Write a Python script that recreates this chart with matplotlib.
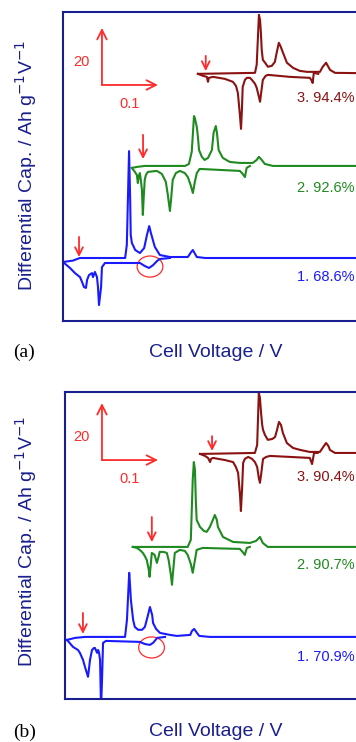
import matplotlib
matplotlib.use("Agg")
import matplotlib.pyplot as plt
from matplotlib.patches import Ellipse

# dQ/dV curves, voltage relative to cycle start (V), dQ/dV relative to cycle baseline (Ah g-1 V-1)
# panel (a)
A1_CHG_V = [0, 0.018, 0.030, 0.111, 0.114, 0.118, 0.120, 0.121, 0.123, 0.129, 0.1375, 0.145, 0.150, 0.154,
            0.157, 0.159, 0.164, 0.173, 0.191, 0.223, 0.229, 0.232, 0.236, 0.239, 0.254, 0.55]
A1_CHG_Q = [-1.4, -0.9, 0, 0, 4.6, 37.5, 20.4, 8.1, 5.3, 2.8, 1.75, 3.5, 8.1, 11.2,
            8.8, 7.4, 3.9, 1.05, 0.35, 0.35, 2.1, 2.8, 1.4, 0.35, 0, 0]
A1_DIS_V = [0, 0.0125, 0.0214, 0.0304, 0.034, 0.0375, 0.041, 0.043, 0.0464, 0.0518, 0.0536, 0.057, 0.0607,
            0.0625, 0.0643, 0.068, 0.0696, 0.075, 0.1375, 0.146, 0.1536, 0.161, 0.168, 0.173, 0.191]
A1_DIS_Q = [-1.4, -3.5, -5.3, -6.7, -8.4, -10.2, -10.5, -7.7, -6.0, -5.3, -6.7, -4.9, -6.7,
            -10.2, -16.5, -10.2, -3.2, -1.75, -1.75, -2.8, -3.5, -2.5, -1.05, -0.35, 0]

A2_CHG_V = [0, 0.009, 0.023, 0.095, 0.102, 0.107, 0.111, 0.1125, 0.116, 0.118, 0.120, 0.125, 0.130, 0.136,
            0.143, 0.146, 0.150, 0.152, 0.155, 0.1625, 0.175, 0.193, 0.216, 0.223, 0.227, 0.232, 0.2375,
            0.252, 0.45]
A2_CHG_Q = [-0.7, -0.35, 0, 0, 0.7, 5.0, 17.5, 16.8, 13.7, 10.2, 5.6, 3.2, 2.1, 2.8,
            5.6, 11.6, 14.0, 11.6, 5.6, 2.8, 1.4, 1.05, 1.05, 2.1, 3.2, 2.1, 0.7, 0, 0]
A2_DIS_V = [0, 0.0054, 0.009, 0.0107, 0.0125, 0.0143, 0.016, 0.018, 0.0196, 0.0214, 0.023, 0.025, 0.0286,
            0.0446, 0.0536, 0.0607, 0.0643, 0.068, 0.070, 0.073, 0.0786, 0.0857, 0.0946, 0.100, 0.105,
            0.109, 0.1125, 0.116, 0.121, 0.157, 0.193, 0.198, 0.202, 0.205, 0.211]
A2_DIS_Q = [-0.7, -2.1, -3.2, -6.0, -3.5, -2.5, -4.9, -8.4, -17.2, -10.2, -4.9, -3.2, -2.1,
            -1.75, -2.8, -5.6, -10.2, -15.8, -11.9, -4.9, -2.5, -1.75, -2.5, -3.9, -6.7,
            -9.5, -5.6, -2.5, -1.05, -1.4, -1.75, -2.8, -3.9, -0.7, 0]

A3_CHG_V = [0, 0.102, 0.105, 0.109, 0.111, 0.1125, 0.114, 0.116, 0.120, 0.125, 0.132, 0.1375, 0.141,
            0.1446, 0.148, 0.152, 0.159, 0.170, 0.182, 0.195, 0.218, 0.223, 0.229, 0.232, 0.236, 0.245, 0.40]
A3_CHG_Q = [0, 0.35, 3.2, 20.7, 18.9, 14.4, 8.4, 4.9, 3.9, 2.5, 2.8, 4.2, 7.7,
            10.9, 9.5, 7.4, 3.9, 2.1, 1.05, 0.7, 0.7, 2.5, 3.9, 2.8, 1.4, 0.35, 0]
A3_DIS_V = [0, 0.009, 0.016, 0.018, 0.0196, 0.027, 0.048, 0.0625, 0.068, 0.0714, 0.075, 0.077, 0.0786,
            0.080, 0.084, 0.0875, 0.093, 0.0964, 0.102, 0.105, 0.109, 0.111, 0.1125, 0.116, 0.121, 0.125,
            0.164, 0.200, 0.2036, 0.205, 0.207, 0.215]
A3_DIS_Q = [0, -0.7, -1.05, -2.8, -1.4, -1.05, -1.75, -2.8, -4.2, -6.7, -14.4, -19.3, -12.6,
            -4.6, -2.1, -1.4, -1.4, -2.1, -3.5, -4.9, -8.1, -9.8, -7.4, -2.1, -0.7, -0.35,
            -1.05, -1.4, -2.5, -3.2, 0.35, 0]

# panel (b)
B1_CHG_V = [0, 0.0143, 0.032, 0.1036, 0.107, 0.111, 0.1125, 0.114, 0.118, 0.121, 0.127, 0.134, 0.139,
            0.1446, 0.148, 0.152, 0.1536, 0.159, 0.166, 0.184, 0.196, 0.220, 0.223, 0.227, 0.232, 0.236,
            0.255, 0.55]
B1_CHG_Q = [-1.05, -0.35, 0, 0, 6.0, 22.5, 18.2, 13.0, 6.0, 3.5, 2.5, 2.5, 3.5,
            7.7, 10.5, 7.7, 4.9, 2.8, 1.4, 0.7, 0.35, 0.7, 2.1, 2.8, 1.4, 0.35, 0, 0]
B1_DIS_V = [0, 0.0107, 0.0196, 0.023, 0.0286, 0.032, 0.0375, 0.039, 0.041, 0.0446, 0.048, 0.050, 0.0536,
            0.0554, 0.057, 0.059, 0.0607, 0.0625, 0.0643, 0.0696, 0.130, 0.139, 0.148, 0.1536, 0.161, 0.175]
B1_DIS_Q = [-1.05, -3.5, -4.6, -5.6, -8.1, -10.5, -14.0, -11.6, -8.1, -4.6, -3.9, -3.9, -5.6,
            -4.6, -5.3, -8.1, -25.0, -15.1, -2.1, -1.4, -1.75, -2.5, -2.8, -2.1, -0.35, 0]

B2_CHG_V = [0, 0.030, 0.098, 0.1036, 0.107, 0.109, 0.111, 0.1125, 0.114, 0.120, 0.127, 0.132, 0.1375,
            0.143, 0.1464, 0.150, 0.152, 0.161, 0.179, 0.209, 0.220, 0.227, 0.232, 0.241, 0.45]
B2_CHG_Q = [0, 0, 0, 2.5, 23.5, 29.8, 27.0, 16.5, 9.5, 7.0, 5.6, 5.3, 7.0,
            9.5, 11.2, 9.5, 7.0, 3.5, 1.75, 1.4, 2.1, 3.5, 1.4, 0, 0]
B2_DIS_V = [0, 0.0071, 0.0125, 0.018, 0.0214, 0.025, 0.0286, 0.030, 0.032, 0.034, 0.039, 0.043, 0.0464,
            0.048, 0.055, 0.0607, 0.064, 0.068, 0.070, 0.0714, 0.075, 0.084, 0.093, 0.098, 0.1036,
            0.107, 0.111, 0.114, 0.125, 0.191, 0.196, 0.200, 0.2036, 0.209]
B2_DIS_Q = [0, -0.35, -1.05, -2.1, -3.2, -4.6, -8.1, -10.5, -6.3, -2.1, -2.8, -5.6, -3.2,
            -1.75, -1.75, -2.1, -4.6, -9.8, -13.3, -9.8, -2.1, -1.05, -1.4, -2.8, -6.0,
            -9.1, -4.6, -1.05, -0.35, -0.7, -1.75, -2.8, -0.35, 0]

B3_CHG_V = [0, 0.098, 0.102, 0.105, 0.107, 0.109, 0.111, 0.1125, 0.116, 0.121, 0.129, 0.134, 0.1375,
            0.141, 0.1446, 0.148, 0.155, 0.166, 0.179, 0.196, 0.214, 0.220, 0.225, 0.229, 0.232, 0.241, 0.40]
B3_CHG_Q = [-0.35, 0, 2.8, 21.1, 19.3, 14.0, 9.8, 8.1, 6.3, 4.6, 4.9, 5.6, 8.1,
            10.9, 9.8, 7.0, 3.5, 1.75, 1.05, 0.35, 0.35, 2.1, 3.5, 2.5, 1.05, 0, 0]
B3_DIS_V = [0, 0.009, 0.0143, 0.018, 0.0196, 0.023, 0.0446, 0.059, 0.064, 0.068, 0.0714, 0.073, 0.075,
            0.077, 0.080, 0.086, 0.093, 0.098, 0.102, 0.105, 0.107, 0.109, 0.1125, 0.118, 0.125,
            0.161, 0.196, 0.198, 0.200, 0.2036, 0.21]
B3_DIS_Q = [-0.35, -1.05, -1.75, -3.2, -2.1, -1.75, -2.5, -3.2, -4.9, -7.0, -14.7, -20.4, -13.0,
            -3.5, -2.1, -1.4, -2.1, -3.2, -4.9, -8.8, -10.5, -7.7, -2.1, -1.4, -1.05,
            -1.4, -1.75, -2.8, -3.9, 0, 0]

# stacking offsets of cycles 1..3
OFF_A_V = [0.0, 0.123, 0.241]
OFF_A_Q = [0.0, 32.3, 64.6]
OFF_B_V = [0.0036, 0.121, 0.241]
OFF_B_Q = [0.0, 31.6, 64.6]

LABELS_A = ["1. 68.6%", "2. 92.6%", "3. 94.4%"]
LABELS_B = ["1. 70.9%", "2. 90.7%", "3. 90.4%"]
LABEL_Q_A = [-6.7, 24.6, 56.1]
LABEL_Q_B = [-7.0, 25.3, 56.1]

# red arrows marking the start of each cycle (x, tail, head)
MARK_A_V = [0.0286, 0.143, 0.255]
MARK_A_TAIL = [7.4, 43.2, 70.9]
MARK_A_HEAD = [0.35, 34.7, 65.6]
MARK_B_V = [0.032, 0.155, 0.2625]
MARK_B_TAIL = [8.4, 42.1, 70.5]
MARK_B_HEAD = [1.05, 33.3, 65.3]

CIRCLE_A = (0.1554, -3.0)
CIRCLE_B = (0.1545, -3.7)
SCALE_A = (0.0696, 60.7)
SCALE_B = (0.066, 62.1)
SCALE_DV = 0.1
SCALE_DQ = 20

colors = ["#1a1aff", "#1f8a1f", "#8b1212"]
red = "#ff2a2a"
navy = "#1a1f8f"

W, H = 356, 742
fig = plt.figure(figsize=(W / 100, H / 100), dpi=100)
plt.rcParams["font.family"] = "Liberation Sans"


def px_axes(left, top, width, height):
    return fig.add_axes([left / W, 1 - (top + height) / H, width / W, height / H])


def red_arrow(ax, xy, xytext, size):
    ax.annotate("", xy=xy, xytext=xytext,
                arrowprops=dict(arrowstyle="->", color=red, lw=1.3, mutation_scale=size,
                                shrinkA=0, shrinkB=0))


def panel(ax, curves, offv, offq, labels, label_q, mv, mt, mh, circle, scale, xlim, ylim):
    for i, (cv, cq, dv, dq) in enumerate(curves):
        ax.plot([v + offv[i] for v in cv], [q + offq[i] for q in cq], color=colors[i], lw=1.5)
        ax.plot([v + offv[i] for v in dv], [q + offq[i] for q in dq], color=colors[i], lw=1.5)
        ax.text(xlim[0] + (xlim[1] - xlim[0]) * 0.865, label_q[i], labels[i], color=colors[i],
                fontsize=10.5, ha="right", va="center")
        red_arrow(ax, (mv[i], mh[i]), (mv[i], mt[i]), 14)
    ax.add_patch(Ellipse(circle, 0.046, 7.4, fill=False, edgecolor=red, lw=0.9))
    x0, y0 = scale
    red_arrow(ax, (x0, y0 + SCALE_DQ), (x0, y0), 17)
    red_arrow(ax, (x0 + SCALE_DV, y0), (x0, y0), 17)
    ax.text(x0 - 0.022, y0 + 8, "20", color=red, fontsize=10.5, ha="right", va="center")
    ax.text(x0 + 0.05, y0 - 6.5, "0.1", color=red, fontsize=10.5, ha="center", va="center")
    ax.set_xlim(*xlim)
    ax.set_ylim(*ylim)
    ax.set_xticks([])
    ax.set_yticks([])
    for s in ax.spines.values():
        s.set_color(navy)
        s.set_linewidth(1.5)
    ax.spines["right"].set_visible(False)


ax_a = px_axes(63, 12, 337, 309)
panel(ax_a,
      [(A1_CHG_V, A1_CHG_Q, A1_DIS_V, A1_DIS_Q),
       (A2_CHG_V, A2_CHG_Q, A2_DIS_V, A2_DIS_Q),
       (A3_CHG_V, A3_CHG_Q, A3_DIS_V, A3_DIS_Q)],
      OFF_A_V, OFF_A_Q, LABELS_A, LABEL_Q_A, MARK_A_V, MARK_A_TAIL, MARK_A_HEAD,
      CIRCLE_A, SCALE_A, (0, 0.602), (-22.1, 86.3))

ax_b = px_axes(65, 392, 335, 307)
panel(ax_b,
      [(B1_CHG_V, B1_CHG_Q, B1_DIS_V, B1_DIS_Q),
       (B2_CHG_V, B2_CHG_Q, B2_DIS_V, B2_DIS_Q),
       (B3_CHG_V, B3_CHG_Q, B3_DIS_V, B3_DIS_Q)],
      OFF_B_V, OFF_B_Q, LABELS_B, LABEL_Q_B, MARK_B_V, MARK_B_TAIL, MARK_B_HEAD,
      CIRCLE_B, SCALE_B, (0, 0.598), (-21.8, 86.0))

ylab = "Differential Cap. / Ah g$^{-1}$V$^{-1}$"
for yc, xl_y, tag in [(165, 352, "(a)"), (541, 732, "(b)")]:
    fig.text(26 / W, 1 - yc / H, ylab, rotation=90, ha="center", va="center", color=navy, fontsize=14)
    fig.text(216 / W, 1 - xl_y / H, "Cell Voltage / V", ha="center", va="center", color=navy, fontsize=14)
    fig.text(13 / W, 1 - xl_y / H, tag, ha="left", va="center", color="black", fontsize=14,
             family="Liberation Serif")

fig.savefig("out.png", dpi=100)
